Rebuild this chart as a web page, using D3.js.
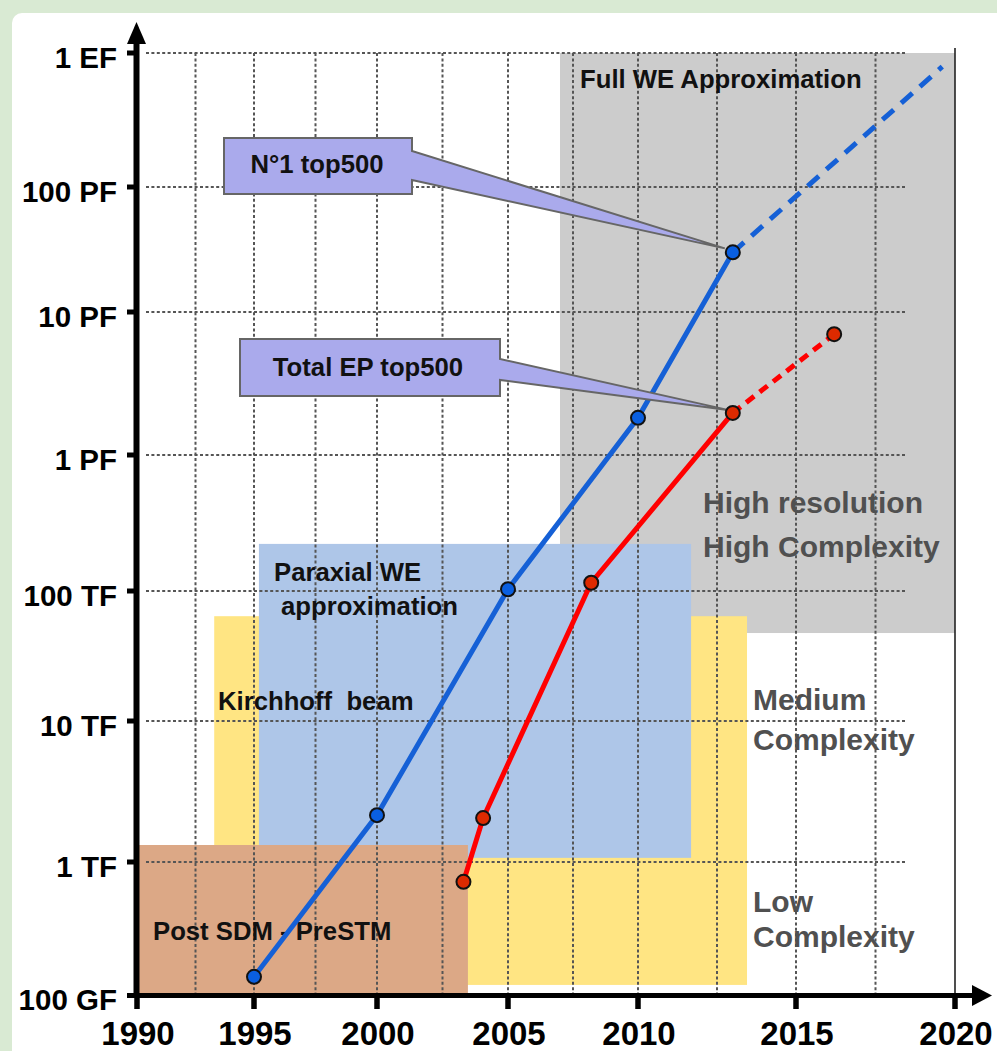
<!DOCTYPE html>
<html>
<head>
<meta charset="utf-8">
<script src="https://cdn.jsdelivr.net/npm/d3@7"></script>
<style>
  html, body { margin: 0; padding: 0; background: #d9ead3; }
  svg { display: block; font-family: "Liberation Sans", Arial, sans-serif; }
</style>
</head>
<body>
<svg id="chart" width="997" height="1051"></svg>
<script>
// ---------------- DATA ----------------
const xTickYears = [1990, 1995, 2000, 2005, 2010, 2015, 2020];
const xTickLabels = ["1990", "1995", "2000", "2005", "2010", "2015", "2020"];
const gridYears = [1992.5, 1995, 1997.5, 2000, 2002.5, 2005, 2007.5, 2010, 2012.5, 2015, 2017.5];

const yTickValues = [1e11, 1e12, 1e13, 1e14, 1e15, 1e16, 1e17, 1e18];
const yTickLabels = ["100 GF", "1 TF", "10 TF", "100 TF", "1 PF", "10 PF", "100 PF", "1 EF"];

// N°1 top500 (blue)
const no1Years = [1995, 2000, 2005, 2010, 2013];
const no1Flops = [1.38e11, 2.15e12, 1.03e14, 1.82e15, 3.0e16];
const no1ProjYears = [2013, 2019.6];
const no1ProjFlops = [3.0e16, 7.9e17];

// Total EP top500 (red)
const epYears = [2003.3, 2004.05, 2008.2, 2013];
const epFlops = [7.1e11, 2.05e12, 1.15e14, 1.97e15];
const epProjYears = [2013, 2016.2];
const epProjFlops = [1.97e15, 7.0e15];

// Method regions (drawn in this order)
const regionNames = ["Full WE", "Kirchhoff beam", "Paraxial WE", "Post SDM - PreSTM"];
const regionYear0 = [2007.0, 1993.3, 1995.2, 1990.0];
const regionYear1 = [2020.0, 2013.45, 2011.68, 2003.47];
const regionFlops0 = [4.75e13, 1.2e11, 1.07e12, 1e11];
const regionFlops1 = [1e18, 6.4e13, 2.22e14, 1.32e12];
const regionColors = ["#cccccc", "#ffe583", "#aec6e8", "#dca886"];

// ---------------- CHART ----------------
const svg = d3.select("#chart");

// white panel
svg.append("rect").attr("x", 12).attr("y", 13).attr("width", 1010).attr("height", 1100)
  .attr("rx", 10).attr("fill", "#ffffff");

const x = d3.scaleLinear().domain(xTickYears).range([137, 254, 377, 508, 638, 796, 955]);
const y = d3.scaleLog().domain(yTickValues).range([995.5, 862, 721, 591, 455, 312, 187, 53]);

// regions
const regions = regionNames.map((n, i) => ({
  name: n, x0: regionYear0[i], x1: regionYear1[i], f0: regionFlops0[i], f1: regionFlops1[i], c: regionColors[i]
}));
svg.append("g").selectAll("rect").data(regions).join("rect")
  .attr("x", d => x(d.x0))
  .attr("y", d => y(d.f1))
  .attr("width", d => x(d.x1) - x(d.x0))
  .attr("height", d => y(d.f0) - y(d.f1))
  .attr("fill", d => d.c);

// grid
const grid = svg.append("g").attr("stroke", "#555").attr("stroke-width", 2).attr("stroke-dasharray", "3,2.4");
grid.selectAll("line.h").data(yTickValues.slice(1)).join("line").attr("class", "h")
  .attr("x1", 146).attr("x2", 906).attr("y1", d => y(d)).attr("y2", d => y(d));
grid.selectAll("line.v").data(gridYears).join("line").attr("class", "v")
  .attr("x1", d => x(d)).attr("x2", d => x(d)).attr("y1", y(1e18)).attr("y2", 993);

// thin right line at 2020
svg.append("line").attr("x1", x(2020)).attr("x2", x(2020)).attr("y1", 48).attr("y2", 995)
  .attr("stroke", "#222").attr("stroke-width", 1.6);

// region labels
function label(txt, px, py, size, color) {
  svg.append("text").attr("x", px).attr("y", py).attr("font-size", size).attr("font-weight", "bold")
    .attr("fill", color).style("white-space", "pre").text(txt);
}
label("Full WE Approximation", 580, 88, 25.7, "#111");
label("High resolution", 703, 513, 30, "#505050");
label("High Complexity", 703, 557, 30, "#505050");
label("Medium", 753, 710, 30, "#505050");
label("Complexity", 753, 750, 30, "#505050");
label("Low", 753, 912, 30, "#505050");
label("Complexity", 753, 947, 30, "#505050");
label("Paraxial WE", 274, 581, 25.7, "#111");
label("approximation", 281, 615, 25.7, "#111");
label("Kirchhoff  beam", 218, 710, 25.7, "#111");
label("Post SDM - PreSTM", 153, 940, 25.7, "#111");

// lines
const line = d3.line().x(d => x(d[0])).y(d => y(d[1]));
const zip = (a, b) => a.map((v, i) => [v, b[i]]);
svg.append("path").attr("d", line(zip(no1Years, no1Flops))).attr("fill", "none")
  .attr("stroke", "#1560d6").attr("stroke-width", 5);
svg.append("path").attr("d", line(zip(no1ProjYears, no1ProjFlops))).attr("fill", "none")
  .attr("stroke", "#1560d6").attr("stroke-width", 5).attr("stroke-dasharray", "15,10");
svg.append("path").attr("d", line(zip(epYears, epFlops))).attr("fill", "none")
  .attr("stroke", "#ff0000").attr("stroke-width", 5);
svg.append("path").attr("d", line(zip(epProjYears, epProjFlops))).attr("fill", "none")
  .attr("stroke", "#ff0000").attr("stroke-width", 5).attr("stroke-dasharray", "10,7");

// callouts
function callout(bx, by, bw, bh, t0, t1, tipX, tipY, txt, tx, ty) {
  const p = `M${bx},${by}H${bx + bw}V${t0}L${tipX},${tipY}L${bx + bw},${t1}V${by + bh}H${bx}Z`;
  svg.append("path").attr("d", p).attr("fill", "#aaaaec").attr("stroke", "#666")
    .attr("stroke-width", 2).attr("stroke-linejoin", "miter");
  svg.append("text").attr("x", tx).attr("y", ty).attr("text-anchor", "middle")
    .attr("font-size", 25.7).attr("font-weight", "bold").attr("fill", "#111").text(txt);
}
const n1x = x(no1Years[4]), n1y = y(no1Flops[4]);
callout(224, 138, 188, 56, 151, 180, n1x - 8, n1y - 4, "N°1 top500", 317, 173);
const epx = x(epYears[3]), epy = y(epFlops[3]);
callout(240, 339, 260, 57, 359, 380, epx - 5, epy - 3, "Total EP top500", 368, 376);

// dots
svg.append("g").selectAll("circle").data(zip(no1Years, no1Flops)).join("circle")
  .attr("cx", d => x(d[0])).attr("cy", d => y(d[1])).attr("r", 7)
  .attr("fill", "#0a5fe0").attr("stroke", "#111").attr("stroke-width", 2);
svg.append("g").selectAll("circle").data(zip(epYears, epFlops).concat([[epProjYears[1], epProjFlops[1]]])).join("circle")
  .attr("cx", d => x(d[0])).attr("cy", d => y(d[1])).attr("r", 7)
  .attr("fill", "#dd2a00").attr("stroke", "#111").attr("stroke-width", 2);

// axes
const ax = svg.append("g");
ax.append("line").attr("x1", 136.5).attr("x2", 136.5).attr("y1", 998).attr("y2", 40)
  .attr("stroke", "#000").attr("stroke-width", 6);
ax.append("path").attr("d", "M127,44L146,44L136.5,22Z").attr("fill", "#000");
ax.append("line").attr("x1", 134).attr("x2", 975).attr("y1", 995.5).attr("y2", 995.5)
  .attr("stroke", "#000").attr("stroke-width", 5);
ax.append("path").attr("d", "M972,985L972,1006L992,995.5Z").attr("fill", "#000");

// y ticks
ax.selectAll("line.yt").data(yTickValues).join("line").attr("class", "yt")
  .attr("x1", 127).attr("x2", 137).attr("y1", d => y(d)).attr("y2", d => y(d))
  .attr("stroke", "#000").attr("stroke-width", 5);
ax.selectAll("text.yl").data(yTickValues).join("text").attr("class", "yl")
  .attr("x", 117).attr("y", d => y(d) + 14.5).attr("text-anchor", "end")
  .attr("font-size", 29.5).attr("font-weight", "bold").attr("fill", "#000")
  .text((d, i) => yTickLabels[i]);

// x ticks
ax.selectAll("line.xt").data(xTickYears).join("line").attr("class", "xt")
  .attr("x1", d => x(d)).attr("x2", d => x(d)).attr("y1", 995).attr("y2", 1009)
  .attr("stroke", "#000").attr("stroke-width", 5.5);
ax.selectAll("text.xl").data(xTickYears).join("text").attr("class", "xl")
  .attr("x", d => x(d) + 1).attr("y", 1045).attr("text-anchor", "middle")
  .attr("font-size", 33).attr("font-weight", "bold").attr("fill", "#000")
  .text((d, i) => xTickLabels[i]);
</script>
</body>
</html>
